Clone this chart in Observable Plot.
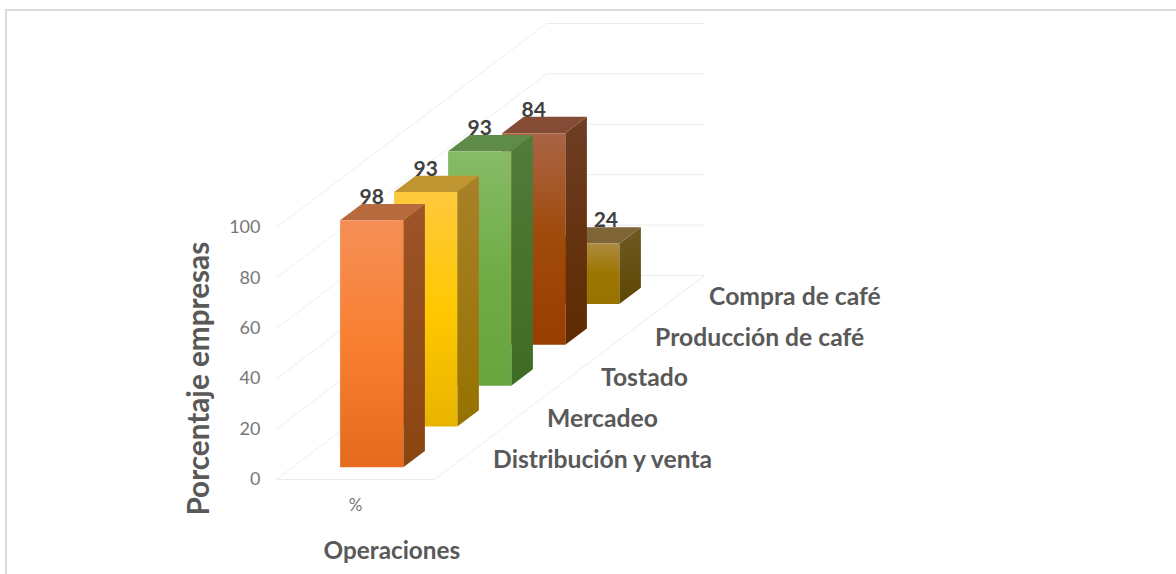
<!DOCTYPE html>
<html>
<head>
<meta charset="utf-8">
<script src="https://cdn.jsdelivr.net/npm/d3@7"></script>
<script src="https://cdn.jsdelivr.net/npm/@observablehq/plot@0.6"></script>
<style>
html,body{margin:0;padding:0;background:#fff;overflow:hidden}
#frame{position:absolute;left:5px;top:9px;width:1171px;height:565px;border-left:2px solid #d9d9d9;border-top:2px solid #d9d9d9;box-sizing:border-box}
#chart{position:absolute;left:0;top:0}
svg{background:transparent!important}
</style>
</head>
<body>
<div id="frame"></div>
<div id="chart"></div>
<script>
const categories = ["Distribución y venta", "Mercadeo", "Tostado", "Producción de café", "Compra de café"];
const values = [98, 93, 93, 84, 24];
const yTicks = [0, 20, 40, 60, 80, 100];
const seriesLabel = "%";
const yTitle = "Porcentaje empresas";
const xTitle = "Operaciones";

// front top, mid, bottom / side top, side bottom / top face
const frontColors = [
  ["#f58f57", "#f97f30", "#e66a1c"],
  ["#ffc93f", "#ffc800", "#e8b400"],
  ["#87bb67", "#70ad47", "#68a53e"],
  ["#aa6445", "#a04a0a", "#983e00"],
  ["#ad8a40", "#9c7600", "#997300"]
];
const sideColors = [
  ["#9c5429", "#8b4510"],
  ["#a88128", "#967200"],
  ["#527c3a", "#3e6b23"],
  ["#6f3d24", "#5e2a00"],
  ["#6f5a25", "#5e4600"]
];
const topColors = ["#b86a3f", "#bf9632", "#5f8b48", "#844b35", "#7f6535"];
// the last value label sits beside its bar's centre in the reference
const labelShift = [0, 0, 0, 0, 0.115];

// oblique 3D: depth (in category rows) shears both the x and y channels
const shearX = 54 / 158, shearY = 40.8 / 2.52;
const P = (X, Y, Z) => ({x: X + Z * shearX, y: Y + Z * shearY});
const gap = 0.3, barW = 0.4, barD = 0.4;
const rows = categories.length;

const gridMarks = [];
const gridColor = "#ececec";
for (const t of yTicks) {
  gridMarks.push(Plot.line([P(0, t, 0), P(0, t, rows)], {x: "x", y: "y", stroke: "#eeeeee", strokeWidth: 1}));
  gridMarks.push(Plot.line([P(0, t, rows), P(1, t, rows)], {x: "x", y: "y", stroke: gridColor, strokeWidth: 1}));
}
gridMarks.push(Plot.line([P(0, 0, 0), P(1, 0, 0), P(1, 0, rows)], {x: "x", y: "y", stroke: gridColor, strokeWidth: 1}));

const face = (pts, fill) => Plot.line(pts, {x: "x", y: "y", fill, stroke: "none", curve: "linear-closed"});

const barMarks = [];
for (let i = rows - 1; i >= 0; --i) {
  const v = values[i], z0 = i + gap, z1 = z0 + barD, x0 = gap, x1 = gap + barW;
  barMarks.push(face([P(x0, v, z0), P(x1, v, z0), P(x1, v, z1), P(x0, v, z1)], topColors[i]));
  barMarks.push(face([P(x1, 0, z0), P(x1, v, z0), P(x1, v, z1), P(x1, 0, z1)], `url(#side${i})`));
  barMarks.push(face([P(x0, 0, z0), P(x1, 0, z0), P(x1, v, z0), P(x0, v, z0)], `url(#front${i})`));
}

function defs() {
  const d = d3.create("svg:defs");
  const grad = (id, stops) => {
    const g = d.append("linearGradient").attr("id", id).attr("x1", 0).attr("y1", 0).attr("x2", 0).attr("y2", 1);
    stops.forEach((c, k) => g.append("stop").attr("offset", k / (stops.length - 1)).attr("stop-color", c));
  };
  frontColors.forEach((c, i) => grad(`front${i}`, c));
  sideColors.forEach((c, i) => grad(`side${i}`, c));
  return d.node();
}

const labelData = values.map((v, i) => ({...P(gap + barW / 2 + labelShift[i], v + 9.2, i + gap), t: String(v)}));
const catData = categories.map((c, i) => ({...P(1.2, -0.4, i + 0.5), t: c}));
const fontFamily = "Lato, Carlito, sans-serif";

const plot = Plot.plot({
  width: 1176,
  height: 574,
  marginLeft: 260,
  marginRight: 0,
  marginTop: 0,
  marginBottom: 79,
  style: {fontFamily, background: "transparent"},
  x: {domain: [0, 1], range: [276, 434], label: null},
  y: {domain: [-37.7, 190.08], range: [574, 0], label: null},
  marks: [
    defs,
    ...gridMarks,
    ...barMarks,
    Plot.axisY({ticks: yTicks, tickSize: 0, tickPadding: 0, fontSize: 18, color: "#777777", label: null, tickFormat: d => d}),
    Plot.axisX({ticks: [0.5], tickSize: 0, tickPadding: 3, fontSize: 17, color: "#777777", label: null, tickFormat: () => seriesLabel}),
    Plot.text(labelData, {x: "x", y: "y", text: "t", fontSize: 21, fontWeight: 700, fill: "#404040"}),
    Plot.text(catData, {x: "x", y: "y", text: "t", textAnchor: "start", fontSize: 24.7, fontWeight: 700, fill: "#595959"}),
    Plot.text([xTitle], {x: 0.73, y: -28.6, text: d => d, fontSize: 24.3, fontWeight: 700, fill: "#595959"}),
    Plot.text([yTitle], {x: -0.49, y: 40, text: d => d, rotate: -90, fontSize: 29.7, fontWeight: 700, fill: "#595959"})
  ]
});
document.getElementById("chart").append(plot);
</script>
</body>
</html>
